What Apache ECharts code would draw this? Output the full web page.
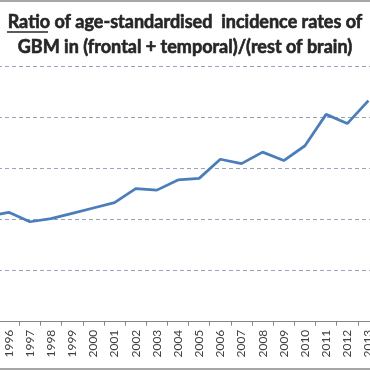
<!DOCTYPE html>
<html>
<head>
<meta charset="utf-8">
<script src="https://cdn.jsdelivr.net/npm/echarts@6/dist/echarts.min.js"></script>
<style>html,body{margin:0;padding:0;background:#fff;overflow:hidden;width:370px;height:370px;position:relative}#c{width:420px;height:370px;position:absolute;left:-25px;top:0}</style>
</head>
<body>
<div id="c"></div>
<script>
var years = ['1995','1996','1997','1998','1999','2000','2001','2002','2003','2004','2005','2006','2007','2008','2009','2010','2011','2012','2013'];
var ratio = [1.413,1.429,1.392,1.404,1.425,1.446,1.467,1.522,1.516,1.556,1.562,1.637,1.620,1.665,1.632,1.690,1.813,1.777,1.867];
var titleLines = ['Ratio of age-standardised  incidence rates of', 'GBM in (frontal + temporal)/(rest of brain)'];
var OFF = 25;

var chart = echarts.init(document.getElementById('c'), null, {renderer: 'canvas'});
chart.setOption({
  animation: false,
  backgroundColor: '#fff',
  graphic: [
    {type: 'text', x: 185 + OFF, y: 10, style: {text: titleLines.join('\n'), textAlign: 'center', fontFamily: 'Lato', fontWeight: 'bold', fontSize: 18, lineHeight: 25, fill: '#262626', stroke: '#262626', lineWidth: 0.6}},
    {type: 'line', shape: {x1: OFF, y1: 1, x2: 370 + OFF, y2: 1}, style: {stroke: '#a6a6a6', lineWidth: 2}},
    {type: 'line', shape: {x1: OFF, y1: 369, x2: 370 + OFF, y2: 369}, style: {stroke: '#a6a6a6', lineWidth: 2}},
    {type: 'line', shape: {x1: 7 + OFF, y1: 32, x2: 48 + OFF, y2: 32}, style: {stroke: '#262626', lineWidth: 1.5}}
  ],
  grid: {left: OFF - 23, width: 402, top: 66.7, bottom: 48.3, containLabel: false},
  xAxis: {
    type: 'category',
    data: years,
    boundaryGap: true,
    axisLine: {lineStyle: {color: '#868686', width: 1}},
    axisTick: {show: true, interval: 0, length: 4, lineStyle: {color: '#868686'}},
    axisLabel: {interval: 0, rotate: 90, margin: 8, fontFamily: 'Lato', fontSize: 12, color: '#404040'}
  },
  yAxis: {
    type: 'value',
    min: 1.0, max: 2.0, interval: 0.2,
    axisLabel: {show: false},
    axisLine: {show: false},
    axisTick: {show: false},
    splitLine: {lineStyle: {color: '#95a3bb', type: [4, 3], width: 1}}
  },
  series: [{
    type: 'line',
    data: ratio,
    symbol: 'none',
    lineStyle: {color: '#4a7ebb', width: 2.75},
    clip: false
  }]
});
</script>
</body>
</html>
